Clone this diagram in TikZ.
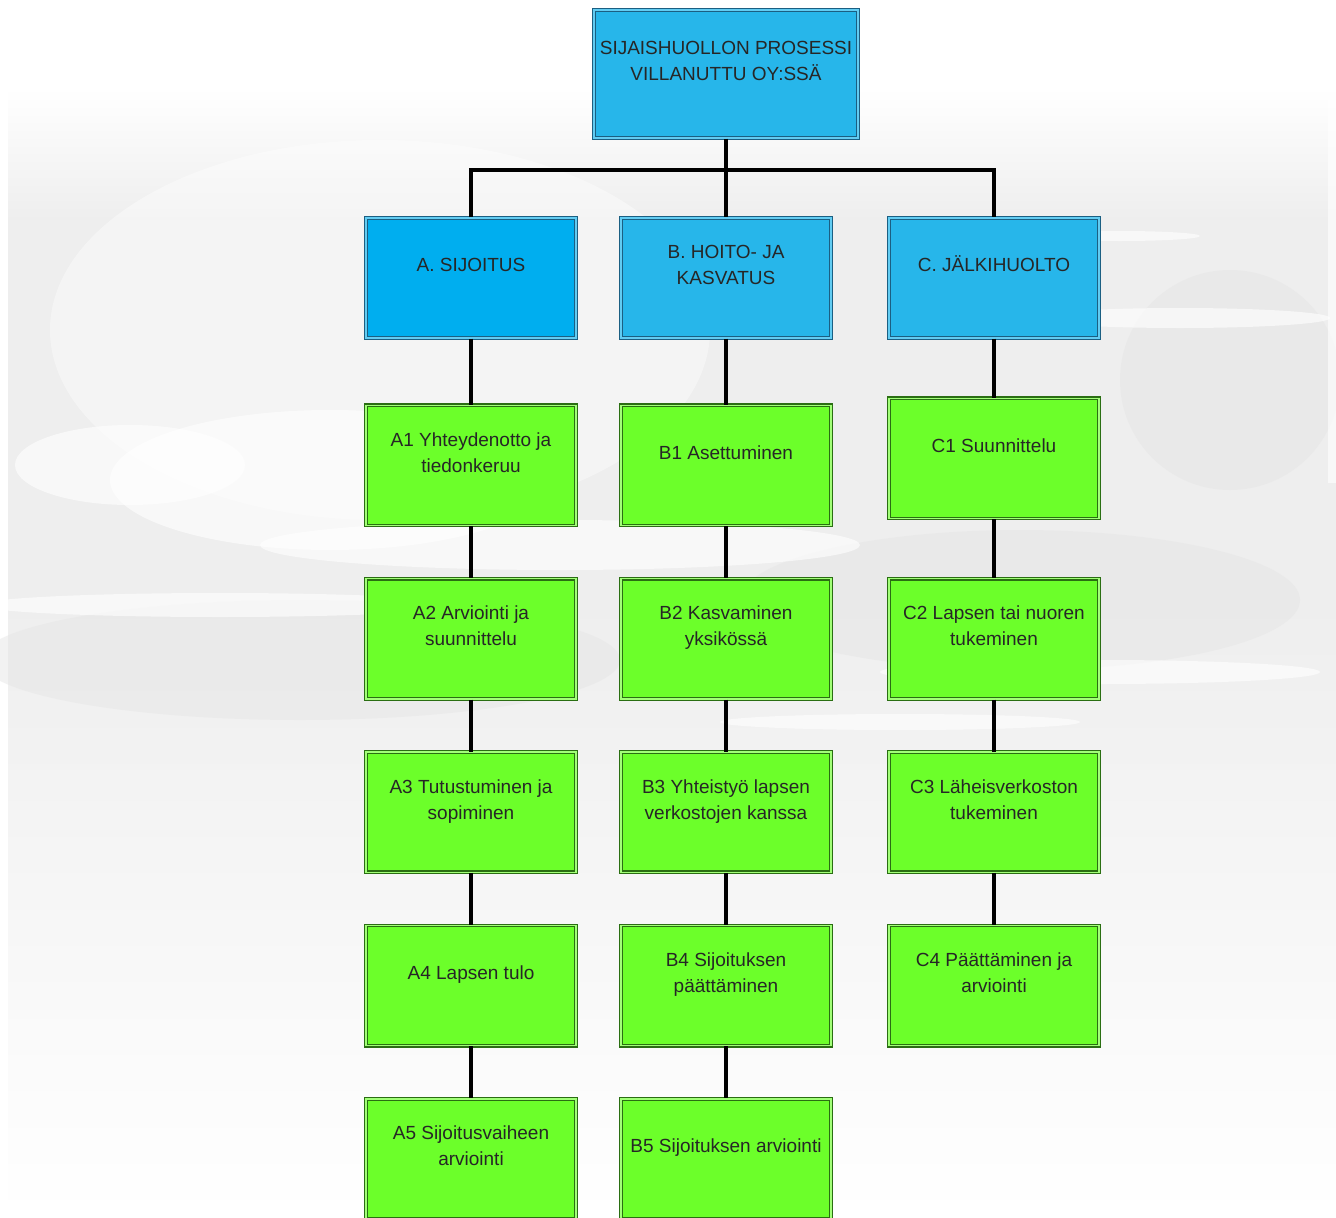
\documentclass[tikz,border=0pt]{standalone}
\usepackage{fontspec}
\setmainfont{Liberation Sans}
\usetikzlibrary{positioning}
\definecolor{topblue}{HTML}{27B6EA}
\definecolor{ablue}{HTML}{00AEEF}
\definecolor{blueline}{HTML}{1B5F82}
\definecolor{bluegap}{HTML}{62CCF2}
\definecolor{stepgreen}{HTML}{6CFF2A}
\definecolor{greenline}{HTML}{2A6E12}
\definecolor{greengap}{HTML}{A2FF78}
\definecolor{skygray}{HTML}{EEEEEE}
\definecolor{darkcloud}{HTML}{E4E4E4}
\tikzset{
    basic/.style = {draw, rectangle, inner sep=0pt, line width=1.2pt, double distance=1.4pt,
        font=\fontsize{19}{26}\selectfont, text=black!85},
    main/.style  = {basic, draw=blueline, double=bluegap, fill=topblue,
        minimum width=264.2pt, minimum height=128.2pt},
    phase/.style = {basic, draw=blueline, double=bluegap, fill=topblue,
        minimum width=210.2pt, minimum height=120.2pt},
    task/.style  = {basic, draw=greenline, double=greengap, fill=stepgreen,
        minimum width=210.2pt, minimum height=120.2pt},
    link/.style  = {line width=3.5pt, black},
    cloudpuff/.style = {fill=white, opacity=0.6},
    cloudshade/.style = {fill=darkcloud, opacity=0.45}
}
% text sits a little above the middle of each box
\newcommand{\boxtext}[1]{\raisebox{7pt}[0pt][0pt]{\begin{tabular}{@{}c@{}}#1\end{tabular}}}

\begin{document}
\begin{tikzpicture}[x=1pt, y=-1pt, node distance=52pt]
    \useasboundingbox (0,0) rectangle (1336,1218);
    % sky
    \fill[white] (0,0) rectangle (1336,1218);
    \shade[top color=white, bottom color=skygray] (8,88) rectangle (1336,220);
    \fill[skygray] (8,220) rectangle (1336,600);
    \shade[top color=skygray, bottom color=white] (8,600) rectangle (1336,1218);
    % clouds
    \fill[cloudshade] (1230,380) ellipse [x radius=110pt, y radius=110pt];
    \fill[cloudshade] (1020,600) ellipse [x radius=280pt, y radius=70pt];
    \fill[cloudshade] (300,660) ellipse [x radius=320pt, y radius=60pt];
    \fill[white, opacity=0.4] (380,330) ellipse [x radius=330pt, y radius=190pt];
    \fill[cloudpuff] (1336,88) rectangle (1328,483);
    \fill[cloudpuff] (130,465) ellipse [x radius=115pt, y radius=40pt];
    \fill[cloudpuff] (330,480) ellipse [x radius=220pt, y radius=70pt];
    \fill[cloudpuff] (560,545) ellipse [x radius=300pt, y radius=25pt];
    \fill[cloudpuff] (220,605) ellipse [x radius=240pt, y radius=12pt];
    \fill[cloudpuff] (1180,318) ellipse [x radius=150pt, y radius=10pt];
    \fill[cloudpuff] (1120,236) ellipse [x radius=80pt, y radius=5pt];
    \fill[cloudpuff] (1100,672) ellipse [x radius=220pt, y radius=12pt];
    \fill[cloudpuff] (900,722) ellipse [x radius=180pt, y radius=8pt];

    % boxes
    \node[main] (top) at (726,74) {\boxtext{SIJAISHUOLLON PROSESSI\\VILLANUTTU OY:SSÄ}};
    \node[phase, fill=ablue] (a) at (471,278) {\boxtext{A. SIJOITUS}};
    \node[phase] (b) at (726,278) {\boxtext{B. HOITO- JA\\KASVATUS}};
    \node[phase] (c) at (994,278) {\boxtext{C. JÄLKIHUOLTO}};

    \node[task, below=66pt of a] (a1) {\boxtext{A1 Yhteydenotto ja\\tiedonkeruu}};
    \node[task, below=of a1] (a2) {\boxtext{A2 Arviointi ja\\suunnittelu}};
    \node[task, below=of a2] (a3) {\boxtext{A3 Tutustuminen ja\\sopiminen}};
    \node[task, below=of a3] (a4) {\boxtext{A4 Lapsen tulo}};
    \node[task, below=of a4] (a5) {\boxtext{A5 Sijoitusvaiheen\\arviointi}};

    \node[task, below=66pt of b] (b1) {\boxtext{B1 Asettuminen}};
    \node[task, below=of b1] (b2) {\boxtext{B2 Kasvaminen\\yksikössä}};
    \node[task, below=of b2] (b3) {\boxtext{B3 Yhteistyö lapsen\\verkostojen kanssa}};
    \node[task, below=of b3] (b4) {\boxtext{B4 Sijoituksen\\päättäminen}};
    \node[task, below=of b4] (b5) {\boxtext{B5 Sijoituksen arviointi}};

    \node[task, below=59pt of c] (c1) {\boxtext{C1 Suunnittelu}};
    \node[task, below=59pt of c1] (c2) {\boxtext{C2 Lapsen tai nuoren\\tukeminen}};
    \node[task, below=of c2] (c3) {\boxtext{C3 Läheisverkoston\\tukeminen}};
    \node[task, below=of c3] (c4) {\boxtext{C4 Päättäminen ja\\arviointi}};

    % connectors
    \coordinate (fork) at (726,170);
    \draw[link] (top) -- (fork);
    \draw[link] (a.north) |- (fork) -| (c.north);
    \draw[link] (fork) -- (b.north);
    \draw[link] (a) -- (a1) (a1) -- (a2) (a2) -- (a3) (a3) -- (a4) (a4) -- (a5);
    \draw[link] (b) -- (b1) (b1) -- (b2) (b2) -- (b3) (b3) -- (b4) (b4) -- (b5);
    \draw[link] (c) -- (c1) (c1) -- (c2) (c2) -- (c3) (c3) -- (c4);
\end{tikzpicture}
\end{document}
